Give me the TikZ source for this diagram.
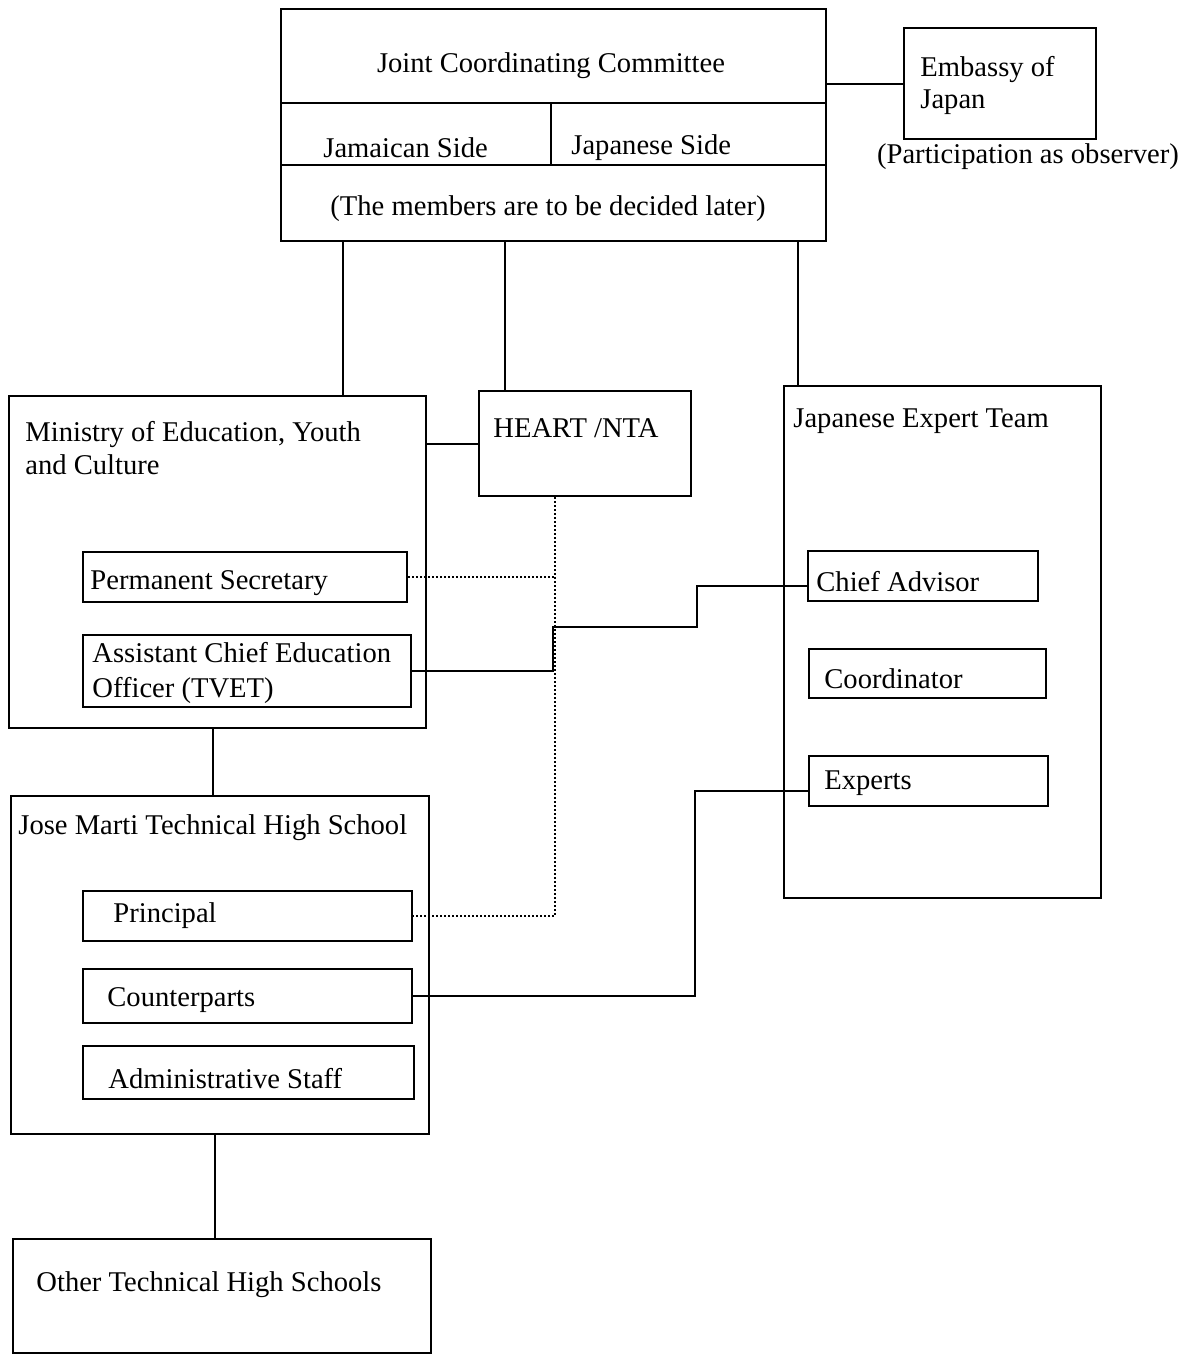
\documentclass[tikz,border=0pt]{standalone}
\usepackage{fontspec}
\setmainfont{Liberation Serif}
\usetikzlibrary{calc}
\begin{document}
\begin{tikzpicture}[x=0.5pt,y=-0.5pt,
  bx/.style 2 args={draw, line width=1.1pt, anchor=north west, inner sep=0pt,
    minimum width=#1*0.5pt, minimum height=#2*0.5pt},
  tx/.style={anchor=base west, inner sep=0pt, font=\fontsize{14.3}{17}\selectfont},
  tc/.style={anchor=base, inner sep=0pt, font=\fontsize{14.3}{17}\selectfont},
  conn/.style={line width=1pt},
  dotl/.style={line width=1pt, densely dotted}]
\useasboundingbox (0,0) rectangle (1192,1354);
% Joint Coordinating Committee
\node[bx={545}{232}] (jcc) at (280,8) {};
\draw[line width=1pt] (280,103) -- (825,103);
\draw[line width=1pt] (280,165) -- (825,165);
\draw[line width=1pt] (551,103) -- (551,165);
\node[tc] (jcct) at (551,73) {Joint Coordinating Committee};
\node[tx] (jams) at (323,157) {Jamaican Side};
\node[tx] (japs) at (571,155) {Japanese Side};
\node[tc] (memb) at (548,215) {(The members are to be decided later)};
% Embassy
\node[bx={192}{111}] (emb) at (903,27) {};
\node[tx] (emb1) at (920,76) {Embassy of};
\node[tx] (emb2) at (920,109) {Japan};
\node[tc] (obs) at (1028,163) {(Participation as observer)};
% Ministry
\node[bx={417}{332}] (min) at (8,395) {};
\node[tx] (min1) at (25,441) {Ministry of Education, Youth};
\node[tx] (min2) at (25,474) {and Culture};
\node[bx={324}{50}] (ps) at (82,551) {};
\node[tx] (pst) at (90,589) {Permanent Secretary};
\node[bx={328}{72}] (aceo) at (82,634) {};
\node[tx] (aceo1) at (92,662) {Assistant Chief Education};
\node[tx] (aceo2) at (92,697) {Officer (TVET)};
% HEART
\node[bx={212}{105}] (heart) at (478,390) {};
\node[tx] (heartt) at (493,437) {HEART /NTA};
% Japanese Expert Team
\node[bx={317}{512}] (jet) at (783,385) {};
\node[tx] (jett) at (793,427) {Japanese Expert Team};
\node[bx={230}{50}] (ca) at (807,550) {};
\node[tx] (cat) at (816,591) {Chief Advisor};
\node[bx={237}{49}] (co) at (808,648) {};
\node[tx] (cot) at (824,688) {Coordinator};
\node[bx={239}{50}] (ex) at (808,755) {};
\node[tx] (ext) at (824,789) {Experts};
% Jose Marti
\node[bx={418}{338}] (jm) at (10,795) {};
\node[tx] (jmt) at (18,834) {Jose Marti Technical High School};
\node[bx={329}{50}] (pri) at (82,890) {};
\node[tx] (prit) at (113,922) {Principal};
\node[bx={329}{54}] (cp) at (82,968) {};
\node[tx] (cpt) at (107,1006) {Counterparts};
\node[bx={331}{53}] (adm) at (82,1045) {};
\node[tx] (admt) at (108,1088) {Administrative Staff};
% Other schools
\node[bx={418}{114}] (oth) at (12,1238) {};
\node[tx] (otht) at (36,1291) {Other Technical High Schools};
% connectors
\draw[conn] (emb.west -| jcc.east) -- (emb.west);
\draw[conn] ([xshift=31.5pt]jcc.south west) -- ([xshift=31.5pt]jcc.south west |- min.north);
\draw[conn] ([xshift=112.5pt]jcc.south west) -- ([xshift=112.5pt]jcc.south west |- heart.north);
\draw[conn] ([xshift=259pt]jcc.south west) -- ([xshift=259pt]jcc.south west |- jet.north);
\draw[conn] (heart.west -| min.east) -- (heart.west);
\coordinate (dv) at ([xshift=38.5pt]heart.south west);
\draw[dotl] (dv) -- (dv |- pri.east) -- (pri.east);
\draw[dotl] (ps.east) -- (ps.east -| dv);
\coordinate (j1) at (697,627);
\draw[conn] (aceo.east) -- ([xshift=-1pt]aceo.east -| dv) |- (j1) |- ([yshift=-5pt]ca.west);
\coordinate (j2) at (695,900);
\draw[conn] (cp.east) -- (cp.east -| j2) |- ([yshift=-5pt]ex.west);
\draw[conn] ([xshift=102.5pt]min.south west) -- ([xshift=102.5pt]min.south west |- jm.north);
\draw[conn] ([xshift=102.5pt]jm.south west) -- ([xshift=102.5pt]jm.south west |- oth.north);
\end{tikzpicture}
\end{document}
